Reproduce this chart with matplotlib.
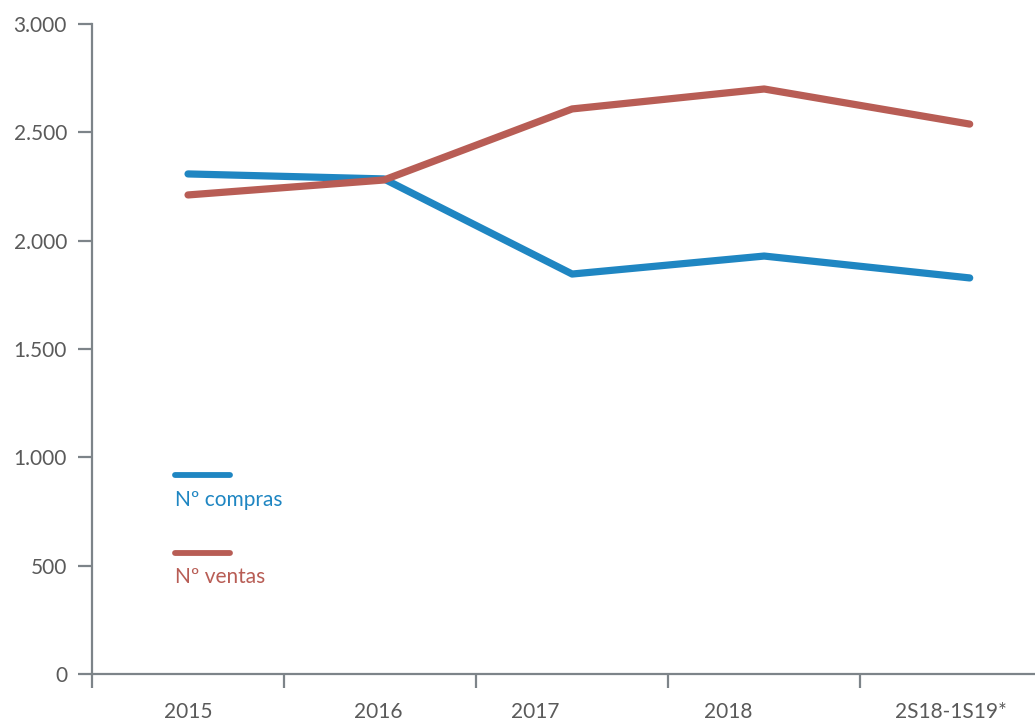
import matplotlib
matplotlib.use("Agg")
import matplotlib.pyplot as plt
from matplotlib.ticker import FuncFormatter

plt.rcParams["font.family"] = ["Lato", "DejaVu Sans"]

# data
categories = ["2015", "2016", "2017", "2018", "2S18-1S19*"]
compras = [2308, 2285, 1846, 1929, 1828]
ventas = [2211, 2280, 2608, 2700, 2538]
# positions of points / labels in the original (not quite centred)
point_pos = [0.0, 1.02, 2.0, 3.0, 4.07]
label_pos = [0.0, 0.99, 1.81, 2.81, 3.97]

BLUE = "#1f86c2"
RED = "#b85d55"
GREY = "#7d8489"
TXT = "#5a5a5a"
FS = 15

fig = plt.figure(figsize=(10.35, 7.24), dpi=100)
ax = fig.add_axes([92 / 1035, 50 / 724, 943 / 1035, 650 / 724])

ax.plot(point_pos, compras, color=BLUE, lw=5.2, solid_capstyle="round",
        solid_joinstyle="round", zorder=3)
ax.plot(point_pos, ventas, color=RED, lw=5.2, solid_capstyle="round",
        solid_joinstyle="round", zorder=4)

ax.set_xlim(-0.5, 4.41)
ax.set_ylim(0, 3000)
ax.set_yticks(range(0, 3001, 500))
ax.yaxis.set_major_formatter(
    FuncFormatter(lambda v, _: f"{int(v):,}".replace(",", ".")))

# x ticks sit on the category boundaries, labels placed as text
ax.set_xticks([i - 0.5 for i in range(len(categories))])
ax.set_xticklabels([])
for p, lab in zip(label_pos, categories):
    ax.text(p, -0.058, lab, transform=ax.get_xaxis_transform(),
            ha="center", va="center", fontsize=FS, color=TXT)

for s in ["top", "right"]:
    ax.spines[s].set_visible(False)
for s in ["left", "bottom"]:
    ax.spines[s].set_color(GREY)
    ax.spines[s].set_linewidth(1.6)
ax.tick_params(axis="both", colors=GREY, length=10, width=1.6)
ax.tick_params(axis="y", labelcolor=TXT, labelsize=FS, pad=8)

# hand-made legend
tr = ax.transAxes
ax.plot([0.088, 0.146], [0.306, 0.306], transform=tr, color=BLUE, lw=4.2,
        solid_capstyle="round", clip_on=False)
ax.text(0.088, 0.268, "Nº compras", transform=tr, color=BLUE, fontsize=FS,
        va="center", ha="left")
ax.plot([0.088, 0.146], [0.186, 0.186], transform=tr, color=RED, lw=4.2,
        solid_capstyle="round", clip_on=False)
ax.text(0.088, 0.149, "Nº ventas", transform=tr, color=RED, fontsize=FS,
        va="center", ha="left")

fig.savefig("out.png", dpi=100)
